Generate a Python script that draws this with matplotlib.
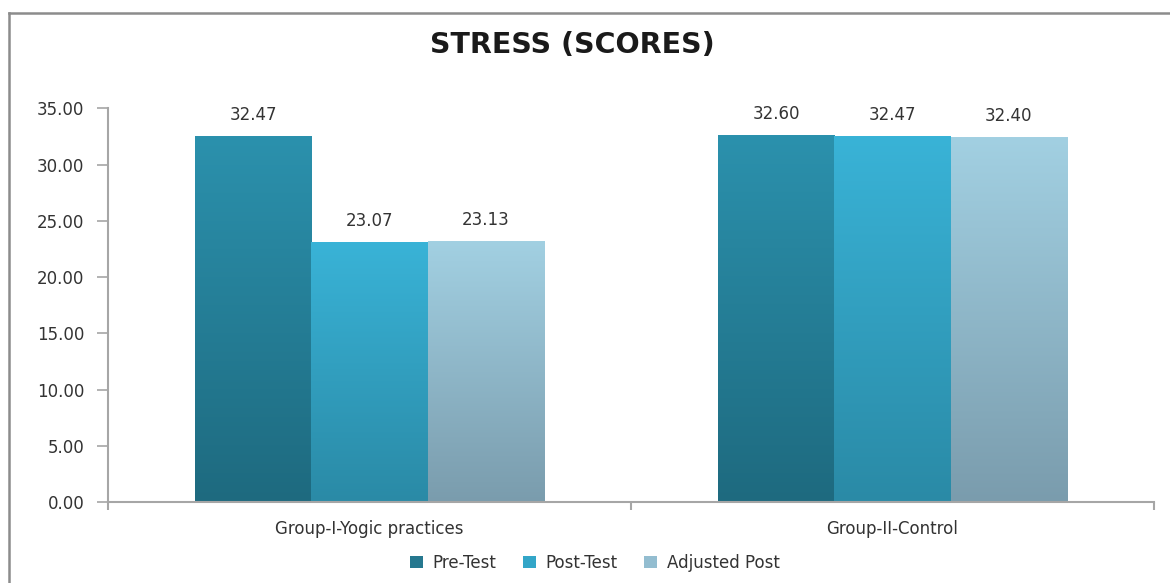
import matplotlib.pyplot as plt
import numpy as np
from matplotlib.colors import LinearSegmentedColormap
from matplotlib.lines import Line2D
from matplotlib.patches import Patch

plt.rcParams['font.family'] = ['DejaVu Sans']

# data
groups = ["Group-I-Yogic practices", "Group-II-Control"]
series = ["Pre-Test", "Post-Test", "Adjusted Post"]
pre_test = [32.47, 32.60]
post_test = [23.07, 32.47]
adjusted_post = [23.13, 32.40]
yticks = [0, 5, 10, 15, 20, 25, 30, 35]

# gradient colours (bottom, top) and flat legend colours
grad_colors = [("#1e6a7f", "#2b91ad"), ("#2a8aa6", "#39b3d7"), ("#7a9cad", "#a2d0e2")]
legend_colors = ["#26788f", "#33a6c8", "#93bdd0"]

fig = plt.figure(figsize=(11.7, 5.83), dpi=100)
ax = fig.add_axes([108 / 1170, 81 / 583, 1046 / 1170, 393.7 / 583])

centers = np.arange(len(groups)) + 0.5
width = 0.2225
values = [pre_test, post_test, adjusted_post]

grad = np.linspace(0, 1, 256).reshape(-1, 1)
for i, vals in enumerate(values):
    cmap = LinearSegmentedColormap.from_list("g%d" % i, grad_colors[i])
    bars = ax.bar(centers + (i - 1) * width, vals, width, color="none", linewidth=0)
    for b, v in zip(bars, vals):
        x0 = b.get_x()
        ax.imshow(grad, extent=(x0, x0 + b.get_width(), 0, b.get_height()),
                  origin="lower", cmap=cmap, aspect="auto", zorder=2)
        ax.text(x0 + b.get_width() / 2, v + 1.1, "%.2f" % v, ha="center", va="bottom",
                fontsize=12, color="#333333")

ax.set_xlim(0, len(groups))
ax.set_ylim(0, 35)

# axes styling
for s in ["top", "right"]:
    ax.spines[s].set_visible(False)
for s in ["left", "bottom"]:
    ax.spines[s].set_color("#a6a6a6")
    ax.spines[s].set_linewidth(1.5)

ax.set_yticks(yticks)
ax.set_yticklabels(["%.2f" % t for t in yticks])
ax.tick_params(axis="y", direction="out", length=8, width=1.2, color="#a6a6a6",
               labelsize=12, labelcolor="#333333", pad=9)

ax.set_xticks(range(len(groups) + 1))
ax.set_xticklabels([])
ax.tick_params(axis="x", which="major", direction="out", length=6, width=1.5, color="#a6a6a6")
ax.set_xticks(centers, minor=True)
ax.set_xticklabels(groups, minor=True)
ax.tick_params(axis="x", which="minor", length=0, labelsize=12, labelcolor="#333333", pad=13)

# title
fig.text(572 / 1170, 1 - 45 / 583, "STRESS (SCORES)", ha="center", va="center",
         fontsize=20.5, fontweight="bold", color="#1a1a1a")

# legend
handles = [Patch(facecolor=c, edgecolor="none") for c in legend_colors]
fig.legend(handles, series, loc="center", bbox_to_anchor=(595 / 1170, 1 - 563 / 583),
           ncol=3, frameon=False, fontsize=12, handlelength=0.75, handleheight=0.75,
           handletextpad=0.6, columnspacing=1.6, labelcolor="#333333")

# outer chart border (only top and left visible)
fig.add_artist(Line2D([9 / 1170, 9 / 1170], [0, 1 - 13 / 583], transform=fig.transFigure,
                      color="#8c8c8c", linewidth=1.8))
fig.add_artist(Line2D([9 / 1170, 1], [1 - 13 / 583, 1 - 13 / 583], transform=fig.transFigure,
                      color="#8c8c8c", linewidth=1.8))

plt.savefig("out.png", dpi=100)
